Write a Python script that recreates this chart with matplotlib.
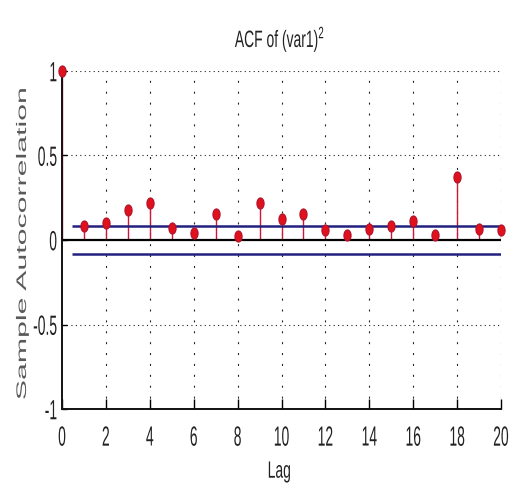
import numpy as np
import matplotlib
matplotlib.use("Agg")
import matplotlib.pyplot as plt
from matplotlib.patheffects import AbstractPathEffect
from matplotlib.transforms import Affine2D
from matplotlib.path import Path
from matplotlib.ticker import FixedLocator, FixedFormatter

plt.rcParams["font.family"] = ["Liberation Sans", "DejaVu Sans"]
plt.rcParams["mathtext.default"] = "regular"
plt.rcParams["axes.unicode_minus"] = False

# sample autocorrelation of the squared series
lags = list(range(21))
acf = [1.0, 0.08, 0.10, 0.18, 0.22, 0.07, 0.04, 0.155, 0.025, 0.22, 0.125,
       0.155, 0.057, 0.028, 0.067, 0.083, 0.11, 0.028, 0.373, 0.067, 0.057]
conf_bound = 0.08
conf_span = [0.45, 20]

x_ticks = [0, 2, 4, 6, 8, 10, 12, 14, 16, 18, 20]
x_tick_labels = [str(v) for v in x_ticks]
y_ticks = [-1, -0.5, 0, 0.5, 1]
y_tick_labels = ["-1", "-0.5", "0", "0.5", "1"]


class Stretch(AbstractPathEffect):
    """Scale rendered glyphs vertically about a fraction of their ink box."""

    def __init__(self, sy, ay=0.5):
        super().__init__()
        self.sy = sy
        self.ay = ay

    def draw_path(self, renderer, gc, tpath, affine, rgbFace=None):
        ext = tpath.get_extents(affine)
        y0 = ext.y0 + self.ay * ext.height
        new = affine + Affine2D().translate(0, -y0).scale(1, self.sy).translate(0, y0)
        renderer.draw_path(gc, tpath, new, rgbFace)


# tall elliptical marker
t = np.linspace(0, 2 * np.pi, 40)
ell = Path(np.column_stack([np.cos(t), 1.55 * np.sin(t)]), closed=True)

W, H = 511, 494
fig = plt.figure(figsize=(W / 100, H / 100), dpi=100)
ax = fig.add_axes([62 / W, 85 / H, 439 / W, 338 / H])

ax.set_xlim(0, 20)
ax.set_ylim(-1, 1)

# grid
for xv in x_ticks[1:]:
    ax.axvline(xv, color="#222222", lw=0.8, ls=(0, (1.8, 8.0)), zorder=0)
for yv in [0.5, 1.0, -0.5]:
    ax.axhline(yv, color="#222222", lw=0.8, ls=(0, (1.0, 3.0)), zorder=0)

# stems sit beneath the axis lines
ax.vlines(lags, 0, acf, color="#d01538", lw=1.0, zorder=2.1)

# zero line and confidence bounds
ax.axhline(0, color="black", lw=1.6, zorder=2.2)
ax.hlines([conf_bound, -conf_bound], conf_span[0], conf_span[1],
          color="#22207e", lw=1.8, zorder=3)

# markers
ax.plot(lags, acf, ls="none", marker=ell, ms=8.0, mfc="#e0101c",
        mec="#b0102a", mew=0.8, zorder=5, clip_on=False)

for side in ["top", "right"]:
    ax.spines[side].set_visible(False)
for side in ["left", "bottom"]:
    ax.spines[side].set_linewidth(1.4)
    ax.spines[side].set_color("#111111")

ax.xaxis.set_major_locator(FixedLocator(x_ticks))
ax.xaxis.set_major_formatter(FixedFormatter(x_tick_labels))
ax.yaxis.set_major_locator(FixedLocator(y_ticks))
ax.yaxis.set_major_formatter(FixedFormatter(y_tick_labels))

ax.tick_params(axis="x", direction="in", length=7.2, width=1.0, pad=11.5,
               labelsize=10, labelcolor="#222222")
ax.tick_params(axis="y", direction="in", length=3.6, width=1.0, pad=3.6,
               labelsize=10, labelcolor="#222222")

for lbl in ax.get_xticklabels():
    lbl.set_path_effects([Stretch(2.0, ay=1.0)])
for lbl in ax.get_yticklabels():
    lbl.set_path_effects([Stretch(2.0, ay=0.5)])

ax.set_xlabel("Lag", fontsize=10, color="#222222",
              path_effects=[Stretch(1.7, ay=1.0)])
ax.xaxis.set_label_coords(0.495, (409 - 460) / 338)

ax.set_ylabel("Sample Autocorrelation", fontsize=10, color="#5a5a5a",
              path_effects=[Stretch(2.18, ay=0.5)])
ax.yaxis.set_label_coords((29 - 62) / 439, (409 - 243.5) / 338)

fig.text(280 / W, (H - 52 + 3) / H, "ACF of $(var1)^2$", ha="center",
         va="baseline", fontsize=10, color="#222222",
         path_effects=[Stretch(1.7, ay=0.0)])

fig.savefig("out.png", dpi=100)
